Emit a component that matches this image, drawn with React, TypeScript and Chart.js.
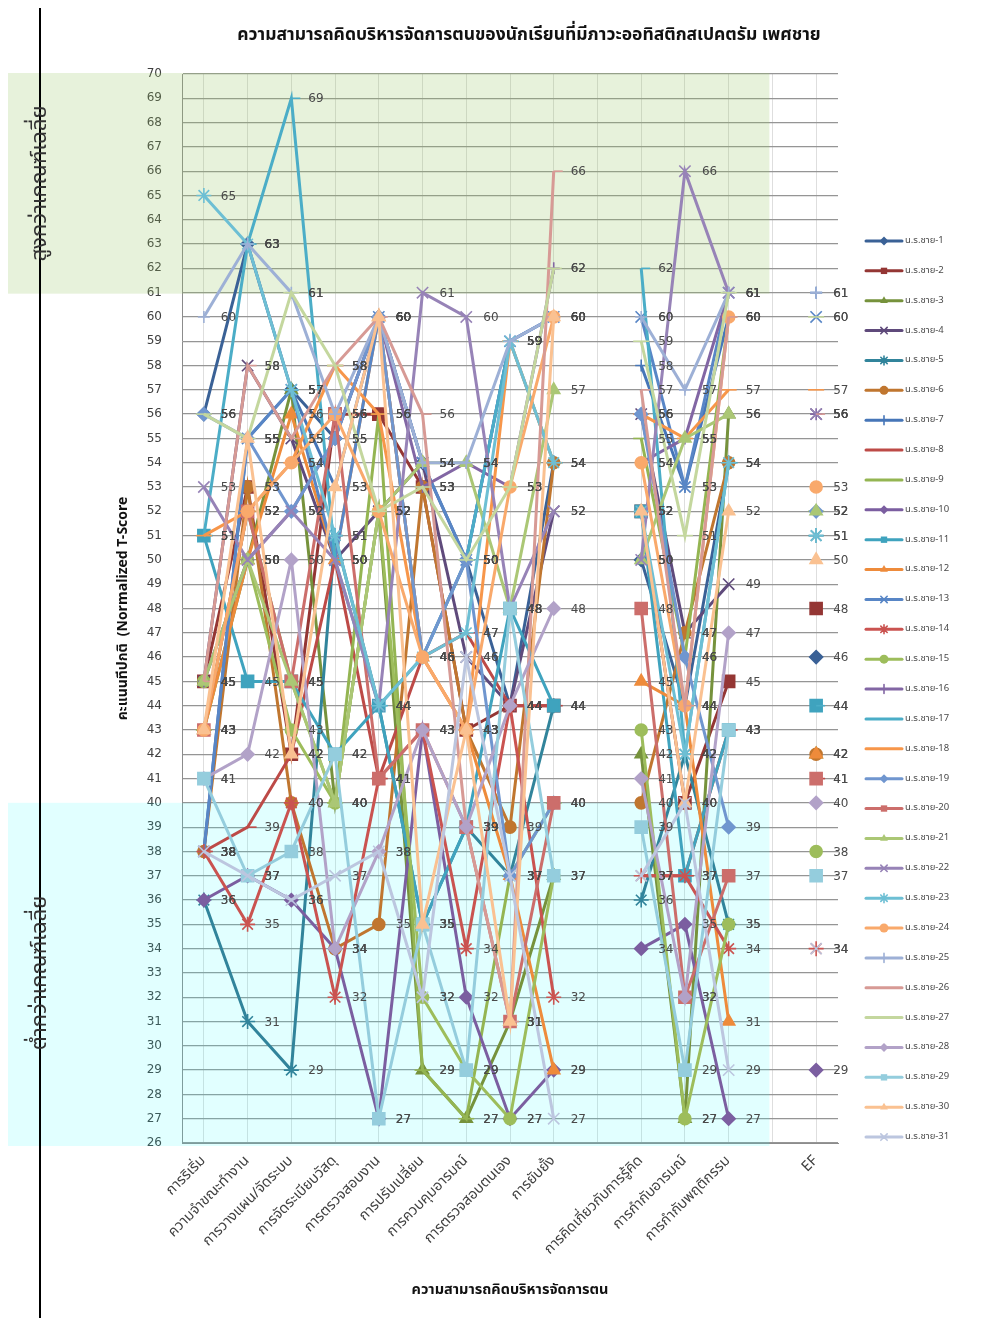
import React, { useEffect, useRef } from 'react';
import { Chart, registerables } from 'chart.js';

Chart.register(...registerables);

const chartTitle = 'ความสามารถคิดบริหารจัดการตนของนักเรียนที่มีภาวะออทิสติกสเปคตรัม เพศชาย';
const xAxisTitle = 'ความสามารถคิดบริหารจัดการตน';
const yAxisTitle = 'คะแนนทีปกติ  (Normalized T-Score';
const bandHighText = 'สูงกว่าเกณฑ์เฉลี่ย';
const bandLowText = 'ต่ำกว่าเกณฑ์เฉลี่ย';

const categories = [
  'การริเริ่ม',
  'ความจำขณะทำงาน',
  'การวางแผน/จัดระบบ',
  'การจัดระเบียบวัสดุ',
  'การตรวจสอบงาน',
  'การปรับเปลี่ยน',
  'การควบคุมอารมณ์',
  'การตรวจสอบตนเอง',
  'การยับยั้ง',
  '',
  'การคิดเกี่ยวกับการรู้คิด',
  'การกำกับอารมณ์',
  'การกำกับพฤติกรรม',
  '',
  'EF',
];

const yMin = 26;
const yMax = 70;
const highBand = [61, 70];
const lowBand = [26, 40];

const s01 = [56, 63, 57, 55, 60, 54, 50, 44, 54, null, 50, 44, 54, null, 46];
const s02 = [45, 53, 42, 56, 56, 53, 43, 44, 44, null, 52, 40, 45, null, 48];
const s03 = [43, 50, 57, 40, 52, 29, 27, 31, 37, null, 42, 27, 56, null, 42];
const s04 = [45, 58, 55, 50, 52, 54, 46, 44, 52, null, 56, 47, 49, null, 56];
const s05 = [36, 31, 29, 51, 44, 35, 39, 37, 44, null, 36, 42, 35, null, 51];
const s06 = [38, 53, 40, 34, 35, 53, 43, 39, 54, null, 40, 47, 54, null, 42];
const s07 = [38, 55, 57, 53, 60, 46, 50, 59, 60, null, 58, 53, 60, null, 61];
const s08 = [38, 39, 42, 50, 41, 46, 47, 44, 44, null, 37, 37, 43, null, 41];
const s09 = [43, 52, 45, 40, 56, 29, 27, 37, 40, null, 55, 46, 60, null, 52];
const s10 = [36, 37, 36, 34, 27, 43, 32, 27, 29, null, 34, 35, 27, null, 29];
const s11 = [51, 45, 45, 42, 44, 35, 39, 48, 44, null, 52, 37, 43, null, 44];
const s12 = [43, 50, 56, 50, 60, 46, 43, 37, 29, null, 45, 44, 31, null, 42];
const s13 = [38, 55, 57, 50, 60, 54, 50, 59, 60, null, 60, 53, 61, null, 60];
const s14 = [38, 35, 40, 32, 41, 43, 34, 44, 32, null, 37, 37, 34, null, 34];
const s15 = [45, 50, 43, 40, 52, 32, 29, 27, 37, null, 43, 27, 35, null, 38];
const s16 = [45, 50, 52, 55, 60, 53, 54, 53, 62, null, 54, 55, 61, null, 56];
const s17 = [51, 63, 69, 50, 44, 46, 50, 59, 54, null, 62, 42, 54, null, 44];
const s18 = [51, 52, 54, 58, 56, 46, 43, 59, 54, null, 56, 55, 57, null, 57];
const s19 = [56, 55, 52, 55, 60, 46, 50, 37, 40, null, 56, 46, 39, null, 52];
const s20 = [43, 52, 45, 56, 41, 43, 39, 31, 40, null, 48, 32, 37, null, 41];
const s21 = [45, 50, 45, 40, 52, 54, 54, 48, 57, null, 50, 55, 56, null, 52];
const s22 = [53, 50, 52, 50, 44, 61, 60, 48, 52, null, 50, 66, 61, null, 56];
const s23 = [65, 63, 57, 51, 44, 46, 47, 59, 54, null, 52, 42, 54, null, 51];
const s24 = [43, 52, 54, 56, 52, 46, 43, 53, 60, null, 54, 44, 60, null, 53];
const s25 = [60, 63, 61, 56, 60, 54, 54, 59, 60, null, 60, 57, 61, null, 61];
const s26 = [45, 58, 55, 58, 60, 56, 39, 31, 66, null, 57, 44, 60, null, 56];
const s27 = [56, 55, 61, 58, 52, 53, 50, 53, 62, null, 59, 51, 61, null, 60];
const s28 = [41, 42, 50, 34, 38, 43, 39, 44, 48, null, 41, 32, 47, null, 40];
const s29 = [41, 37, 38, 42, 27, 35, 29, 48, 37, null, 39, 29, 43, null, 37];
const s30 = [43, 55, 42, 53, 60, 35, 43, 31, 60, null, 52, 40, 52, null, 50];
const s31 = [38, 37, 36, 37, 38, 32, 46, 37, 27, null, 37, 40, 29, null, 34];

const seriesValues = [
  s01, s02, s03, s04, s05, s06, s07, s08, s09, s10,
  s11, s12, s13, s14, s15, s16, s17, s18, s19, s20,
  s21, s22, s23, s24, s25, s26, s27, s28, s29, s30, s31,
];

const seriesNames = seriesValues.map((_, i) => `น.ร.ชาย-${i + 1}`);

const seriesColors = [
  '#3A6196', '#943634', '#76923C', '#5F4A7B', '#31849B', '#C0762F',
  '#4676B8', '#BD4A47', '#94B552', '#7B5EA0', '#3FA3BE', '#EE8B3B',
  '#5886C6', '#CA5350', '#9DBD5B', '#8266A4', '#4BADC7', '#F7964A',
  '#7096CF', '#CC6E6B', '#ABC775', '#9783B7', '#6DBFD4', '#F9A96B',
  '#9DB0D6', '#D79A95', '#C4D79E', '#B2A2C8', '#94CDDD', '#FAC191',
  '#BCC6DF',
];

const markerCycle = ['rectRot', 'rect', 'triangle', 'crossRot', 'star', 'circle', 'cross', 'dash', 'line'];
const markerRadius: Record<string, number> = {
  rectRot: 6.5, rect: 8.5, triangle: 7, crossRot: 8, star: 7.5, circle: 6, cross: 6, dash: 9, line: 8,
};

const THAI = "Tahoma, 'Noto Sans Thai', 'Noto Sans Thai UI', Loma, Garuda, 'Noto Sans', 'DejaVu Sans', sans-serif";
const NUM = "'DejaVu Sans', Verdana, sans-serif";

function drawMarker(ctx: CanvasRenderingContext2D, style: string, x: number, y: number, r: number, color: string) {
  ctx.save();
  ctx.fillStyle = color;
  ctx.strokeStyle = color;
  ctx.lineWidth = 1.6;
  ctx.beginPath();
  const a = r * Math.SQRT1_2;
  switch (style) {
    case 'rectRot':
      ctx.moveTo(x, y - r); ctx.lineTo(x + r, y); ctx.lineTo(x, y + r); ctx.lineTo(x - r, y); ctx.closePath(); ctx.fill();
      break;
    case 'rect':
      ctx.rect(x - a, y - a, 2 * a, 2 * a); ctx.fill();
      break;
    case 'triangle':
      ctx.moveTo(x, y - r); ctx.lineTo(x + r * 0.87, y + r * 0.5); ctx.lineTo(x - r * 0.87, y + r * 0.5); ctx.closePath(); ctx.fill();
      break;
    case 'crossRot':
      ctx.moveTo(x - a, y - a); ctx.lineTo(x + a, y + a); ctx.moveTo(x + a, y - a); ctx.lineTo(x - a, y + a); ctx.stroke();
      break;
    case 'star':
      ctx.moveTo(x - a, y - a); ctx.lineTo(x + a, y + a); ctx.moveTo(x + a, y - a); ctx.lineTo(x - a, y + a);
      ctx.moveTo(x, y - r); ctx.lineTo(x, y + r); ctx.stroke();
      break;
    case 'circle':
      ctx.arc(x, y, r, 0, Math.PI * 2); ctx.fill();
      break;
    case 'cross':
      ctx.moveTo(x, y - r); ctx.lineTo(x, y + r); ctx.moveTo(x - r, y); ctx.lineTo(x + r, y); ctx.stroke();
      break;
    default:
      break;
  }
  ctx.restore();
}

const decorPlugin = {
  id: 'decor',
  beforeDraw(chart: any) {
    const ctx = chart.ctx as CanvasRenderingContext2D;
    ctx.save();
    ctx.fillStyle = '#ffffff';
    ctx.fillRect(0, 0, chart.width, chart.height);
    ctx.restore();
  },
  beforeDatasetsDraw(chart: any) {
    const ctx = chart.ctx as CanvasRenderingContext2D;
    const y = chart.scales.y;
    const x = chart.scales.x;
    const right = x.getPixelForValue(13) - 3;
    const left = 8;
    ctx.save();
    const hTop = y.getPixelForValue(highBand[1]);
    const hBot = y.getPixelForValue(highBand[0]);
    ctx.fillStyle = 'rgba(150,200,100,0.23)';
    ctx.fillRect(left, hTop - 1, right - left, hBot - hTop + 2);
    const lTop = y.getPixelForValue(lowBand[1]);
    const lBot = y.getPixelForValue(lowBand[0]);
    ctx.fillStyle = 'rgba(40,255,255,0.14)';
    ctx.fillRect(left, lTop, right - left, lBot - lTop + 3);
    ctx.restore();
  },
  afterDatasetsDraw(chart: any) {
    const ctx = chart.ctx as CanvasRenderingContext2D;
    ctx.save();
    ctx.font = `12px ${NUM}`;
    ctx.fillStyle = '#4a4a4a';
    ctx.textAlign = 'left';
    ctx.textBaseline = 'middle';
    chart.data.datasets.forEach((ds: any, i: number) => {
      const meta = chart.getDatasetMeta(i);
      meta.data.forEach((pt: any, j: number) => {
        const v = ds.data[j];
        if (v === null || v === undefined) return;
        ctx.fillText(String(v), pt.x + 17, pt.y + 1);
      });
    });
    ctx.restore();
  },
  afterDraw(chart: any) {
    const ctx = chart.ctx as CanvasRenderingContext2D;
    ctx.save();
    // page border line
    ctx.strokeStyle = '#000000';
    ctx.lineWidth = 2;
    ctx.beginPath();
    ctx.moveTo(40, 8);
    ctx.lineTo(40, chart.height);
    ctx.stroke();

    // title
    ctx.fillStyle = '#111111';
    ctx.font = `bold 17.5px ${THAI}`;
    ctx.textAlign = 'center';
    ctx.textBaseline = 'middle';
    ctx.fillText(chartTitle, 529, 36);

    // band texts
    const y = chart.scales.y;
    ctx.font = `22px ${THAI}`;
    ctx.fillStyle = '#333333';
    const drawVert = (t: string, cx: number, cy: number) => {
      ctx.save();
      ctx.translate(cx, cy);
      ctx.rotate(-Math.PI / 2);
      ctx.textAlign = 'center';
      ctx.textBaseline = 'middle';
      ctx.fillText(t, 0, 0);
      ctx.restore();
    };
    drawVert(bandHighText, 42, (y.getPixelForValue(highBand[0]) + y.getPixelForValue(highBand[1])) / 2);
    drawVert(bandLowText, 42, (y.getPixelForValue(lowBand[0]) + y.getPixelForValue(lowBand[1])) / 2);

    // legend
    const lx = 866;
    const ly0 = 241;
    const step = 29.87;
    ctx.font = `9.5px ${THAI}`;
    ctx.textAlign = 'left';
    ctx.textBaseline = 'middle';
    seriesNames.forEach((name, i) => {
      const yy = ly0 + i * step;
      const col = seriesColors[i];
      ctx.strokeStyle = col;
      ctx.lineWidth = 3;
      ctx.lineCap = 'round';
      ctx.beginPath();
      ctx.moveTo(lx, yy);
      ctx.lineTo(lx + 36, yy);
      ctx.stroke();
      const st = markerCycle[i % markerCycle.length];
      drawMarker(ctx, st, lx + 18, yy, 4.5, col);
      ctx.fillStyle = '#4a4a4a';
      ctx.fillText(name, lx + 39, yy);
    });
    ctx.restore();
  },
};

export default function App() {
  const ref = useRef<HTMLCanvasElement | null>(null);
  useEffect(() => {
    if (!ref.current) return;
    const n = seriesValues.length;
    const datasets = seriesValues.map((vals, i) => {
      const st = markerCycle[i % markerCycle.length];
      return {
        label: seriesNames[i],
        data: vals,
        borderColor: seriesColors[i],
        backgroundColor: seriesColors[i],
        pointBackgroundColor: seriesColors[i],
        pointBorderColor: seriesColors[i],
        pointStyle: st,
        pointRadius: markerRadius[st],
        pointBorderWidth: 1.6,
        borderWidth: 3,
        tension: 0,
        spanGaps: false,
        order: n - i,
        clip: false as any,
      };
    });
    const chart = new Chart(ref.current, {
      type: 'line',
      data: { labels: categories, datasets },
      plugins: [decorPlugin],
      options: {
        responsive: false,
        animation: false,
        devicePixelRatio: 1,
        layout: { padding: { top: 74, right: 170, left: 112, bottom: 0 } },
        plugins: {
          legend: { display: false },
          title: { display: false },
          tooltip: { enabled: false },
        },
        scales: {
          x: {
            type: 'category',
            offset: true,
            afterFit: (scale: any) => { scale.height = 175; },
            grid: { display: true, offset: false, color: '#dedede', lineWidth: 1, drawTicks: false },
            border: { display: true, color: '#8c8c8c', width: 1 },
            ticks: {
              autoSkip: false,
              maxRotation: 45,
              minRotation: 45,
              padding: 10,
              color: '#404040',
              font: { family: THAI, size: 14.5 },
            },
            title: {
              display: true,
              text: xAxisTitle,
              color: '#111111',
              font: { family: THAI, size: 14.5, weight: 'bold' },
              padding: { top: 4, bottom: 18 },
            },
          },
          y: {
            min: yMin,
            max: yMax,
            afterFit: (scale: any) => { scale.width = 70; },
            grid: { color: '#959595', lineWidth: 1.3, drawTicks: false },
            border: { display: true, color: '#8c8c8c', width: 1 },
            ticks: {
              stepSize: 1,
              autoSkip: false,
              padding: 20,
              color: '#404040',
              font: { family: NUM, size: 12 },
            },
            title: {
              display: true,
              text: yAxisTitle,
              color: '#111111',
              font: { family: THAI, size: 14, weight: 'bold' },
              padding: { top: 4, bottom: 4 },
            },
          },
        },
      } as any,
    });
    return () => chart.destroy();
  }, []);
  return (
    <canvas
      ref={ref}
      width={1008}
      height={1318}
      style={{ position: 'absolute', left: 0, top: 0, width: 1008, height: 1318, display: 'block' }}
    />
  );
}
